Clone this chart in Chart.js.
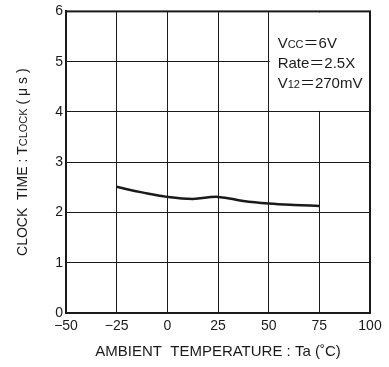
<!DOCTYPE html>
<html>
<head>
<meta charset="utf-8">
<script src="https://cdn.jsdelivr.net/npm/chart.js@4/dist/chart.umd.min.js"></script>
<style>
  html, body { margin: 0; padding: 0; background: #fff; }
  #wrap { width: 389px; height: 367px; }
</style>
</head>
<body>
<div id="wrap"><canvas id="chart" width="389" height="367"></canvas></div>
<script>
// data
const tempC = [-25, -12.5, 0, 12.5, 25, 37.5, 50, 62.5, 75];
const clockUs = [2.51, 2.4, 2.31, 2.27, 2.31, 2.23, 2.18, 2.15, 2.13];
const xTicks = [-50, -25, 0, 25, 50, 75, 100];
const yTicks = [0, 1, 2, 3, 4, 5, 6];
const noteLines = [
    [['V', 15], ['CC', 11], ['＝', 15], ['6V', 15]],
    [['Rate', 15], ['＝', 15], ['2.5X', 15]],
    [['V', 15], ['12', 11], ['＝', 15], ['270mV', 15]]
];

const FONT = '"Liberation Sans", Arial, "Noto Sans CJK JP", sans-serif';
const INK = '#1a1a1a';

function drawRich(ctx, parts, x, y) {
    let cx = x;
    parts.forEach(([txt, size]) => {
        ctx.font = size + 'px ' + FONT;
        ctx.fillText(txt, cx, y);
        cx += ctx.measureText(txt).width;
    });
    return cx - x;
}

function richWidth(ctx, parts) {
    let w = 0;
    parts.forEach(([txt, size]) => {
        ctx.font = size + 'px ' + FONT;
        w += ctx.measureText(txt).width;
    });
    return w;
}

const decorations = {
    id: 'decorations',
    beforeDatasetsDraw(chart) {
        // white box for the conditions note (covers grid in top right cell)
        const { ctx, scales: { x, y } } = chart;
        const left = x.getPixelForValue(50) + 1;
        const right = x.getPixelForValue(100) - 1;
        const top = y.getPixelForValue(6) + 1;
        const bottom = y.getPixelForValue(4) - 1;
        ctx.save();
        ctx.fillStyle = '#fff';
        ctx.fillRect(left, top, right - left, bottom - top);
        ctx.restore();
    },
    afterDraw(chart) {
        const { ctx, chartArea, scales: { x, y } } = chart;
        ctx.save();
        ctx.fillStyle = INK;
        ctx.textBaseline = 'alphabetic';
        ctx.textAlign = 'left';

        // note text, small letters sit on the baseline
        const nx = x.getPixelForValue(50) + 9;
        noteLines.forEach((parts, i) => {
            drawRich(ctx, parts, nx, chartArea.top + 37 + i * 20);
        });

        // plot frame, top and right sides
        ctx.strokeStyle = INK;
        ctx.lineWidth = 2;
        ctx.strokeRect(chartArea.left, chartArea.top, chartArea.right - chartArea.left, chartArea.bottom - chartArea.top);

        // y title
        const yTitle = [['CLOCK  TIME : T', 14], ['CLOCK', 11], [' ( μ s )', 14]];
        const w = richWidth(ctx, yTitle);
        ctx.translate(27, (chartArea.top + chartArea.bottom) / 2);
        ctx.rotate(-Math.PI / 2);
        drawRich(ctx, yTitle, -w / 2, 0);
        ctx.restore();

        // x title
        ctx.save();
        ctx.fillStyle = INK;
        ctx.textBaseline = 'middle';
        ctx.textAlign = 'center';
        ctx.font = '15px ' + FONT;
        ctx.fillText('AMBIENT  TEMPERATURE : Ta (˚C)', (chartArea.left + chartArea.right) / 2, 352);
        ctx.restore();
    }
};

new Chart(document.getElementById('chart'), {
    type: 'line',
    data: {
        labels: tempC,
        datasets: [{
            data: tempC.map((t, i) => ({ x: t, y: clockUs[i] })),
            borderColor: INK,
            borderWidth: 2.5,
            pointRadius: 0,
            tension: 0.4,
            fill: false
        }]
    },
    options: {
        responsive: false,
        animation: false,
        layout: { padding: { top: 10, right: 19, left: 0, bottom: 0 } },
        plugins: { legend: { display: false }, tooltip: { enabled: false } },
        scales: {
            x: {
                type: 'linear',
                min: -50,
                max: 100,
                afterBuildTicks: s => { s.ticks = xTicks.map(v => ({ value: v })); },
                afterFit: s => { s.height = 54; },
                grid: { color: INK, lineWidth: 1, drawTicks: false },
                border: { color: INK, width: 2 },
                ticks: {
                    padding: 5,
                    color: INK,
                    font: { family: FONT, size: 14 },
                    callback: v => (v < 0 ? '\u2212' + Math.abs(v) : String(v))
                }
            },
            y: {
                min: 0,
                max: 6,
                afterBuildTicks: s => { s.ticks = yTicks.map(v => ({ value: v })); },
                afterFit: s => { s.width = 66; },
                grid: { color: INK, lineWidth: 1, drawTicks: false },
                border: { color: INK, width: 2 },
                ticks: {
                    padding: 3,
                    color: INK,
                    font: { family: FONT, size: 14 }
                }
            }
        }
    },
    plugins: [decorations]
});
</script>
</body>
</html>
